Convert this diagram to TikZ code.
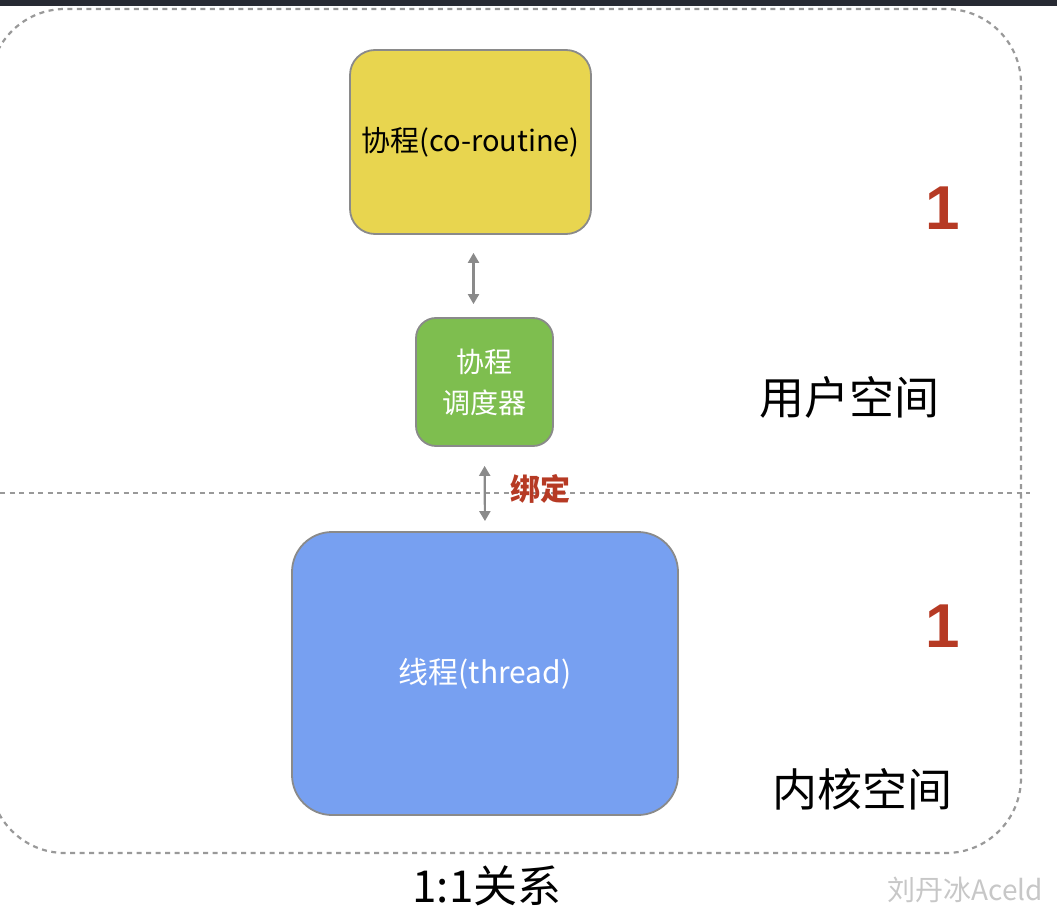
\documentclass[tikz,border=0pt]{standalone}
\usepackage{fontspec}
\setmainfont{Noto Sans CJK SC}
\newfontfamily\numfont{Liberation Sans}
\usepackage{xcolor,tikz}
\usetikzlibrary{arrows.meta,positioning}
\definecolor{coroyellow}{HTML}{E8D54F}
\definecolor{schedgreen}{HTML}{7EBE4F}
\definecolor{threadblue}{HTML}{77A0F1}
\definecolor{markred}{HTML}{B63A24}
\definecolor{boxgray}{HTML}{8A8A8A}
\definecolor{dashgray}{HTML}{999999}
\definecolor{topbar}{HTML}{272A33}
\newcommand{\fs}[1]{\fontsize{#1}{1.6\dimexpr#1pt\relax}\selectfont}

\begin{document}
\begin{tikzpicture}[x=1pt,y=-1pt,
  box/.style={draw=boxgray,line width=1.8pt,inner sep=0pt,align=center},
  biarrow/.style={{Triangle[width=11pt,length=10pt]}-{Triangle[width=11pt,length=10pt]},draw=boxgray,fill=boxgray,line width=2.2pt},
  space/.style={dashed,dash pattern=on 5pt off 4.5pt,draw=dashgray,line width=2.2pt}]
\useasboundingbox (0,0) rectangle (1057,917);
\fill[topbar] (0,0) rectangle (1057,6);
\draw[space,rounded corners=75pt] (-10,9) rectangle (1021,853);
\draw[space] (0,493) -- (1030,493);
\node[box,fill=coroyellow,rounded corners=25pt,minimum width=241,minimum height=184,font=\fs{29}] (coro) at (470.5,142) {协程(co-routine)};
\node[box,fill=schedgreen,rounded corners=20pt,minimum width=137,minimum height=128,text=white,font=\fs{28}] (sched) at (484.5,382) {协程\\[-4pt]调度器};
\node[box,fill=threadblue,rounded corners=40pt,minimum width=386,minimum height=283,text=white,font=\fs{30}] (thread) at (485,673.5) {线程(thread)};
\draw[biarrow,shorten <=18pt,shorten >=13pt] ([xshift=3pt]coro.south) -- ([xshift=3pt]coro.south |- sched.north);
\draw[biarrow,shorten <=19pt,shorten >=10pt] (sched.south) -- (thread.north);
\node[text=markred,font=\fs{30}\bfseries] (bind) at (540,489) {绑定};
\node[text=markred,font=\numfont\fs{62}\bfseries] (one1) at (943,208) {1};
\node[text=markred,font=\numfont\fs{62}\bfseries] (one2) at (943,626) {1};
\node[font=\fs{45}] (userlbl) at (849,397) {用户空间};
\node[font=\fs{45}] (kernlbl) at (862,789) {内核空间};
\node[font=\fs{44}] (ratio) at (487,886) {1:1关系};
\node[text=black!22,font=\fs{28},anchor=west] (mark) at (884,890) {刘丹冰Aceld};
\end{tikzpicture}
\end{document}
